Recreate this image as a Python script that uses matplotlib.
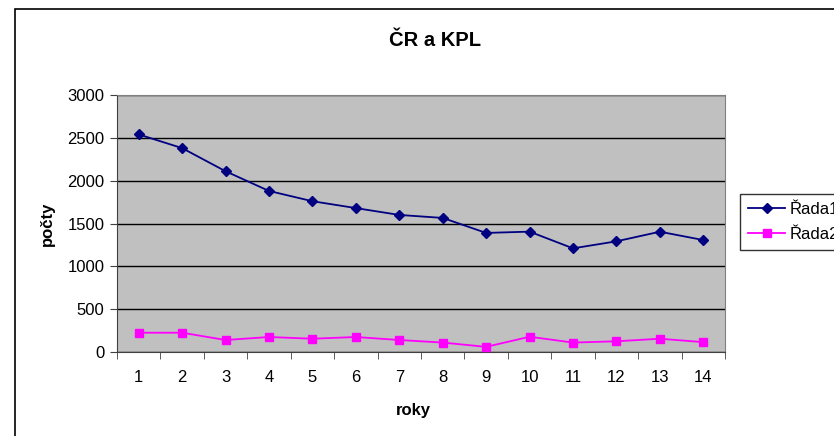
import matplotlib
matplotlib.use("Agg")
import matplotlib.pyplot as plt
from matplotlib.patches import Rectangle

plt.rcParams['font.family'] = ['Liberation Sans', 'DejaVu Sans']

years = list(range(1, 15))
rada1 = [2540, 2380, 2110, 1880, 1760, 1680, 1600, 1565, 1390, 1405, 1210, 1292, 1404, 1307]
rada2 = [225, 225, 140, 175, 155, 175, 140, 110, 60, 178, 110, 125, 155, 115]
yticks = [0, 500, 1000, 1500, 2000, 2500, 3000]

W, H = 834, 436
fig = plt.figure(figsize=(W / 100, H / 100), dpi=100)
fig.patch.set_facecolor('white')

# outer chart border
fig.patches.append(Rectangle((15 / W, 0 - 0.1), 1.2, (H - 9.5) / H + 0.1, transform=fig.transFigure,
                             fill=False, edgecolor='black', linewidth=1.2, zorder=0))

ax = fig.add_axes([117 / W, (H - 352) / H, (725 - 117) / W, (352 - 95) / H])
ax.set_facecolor('#C0C0C0')

ax.plot(years, rada1, color='#000080', marker='D', markersize=5.5, linewidth=1.3, label='Řada1', zorder=3)
ax.plot(years, rada2, color='#FF00FF', marker='s', markersize=5.5, linewidth=1.3, label='Řada2', zorder=3)

ax.set_xlim(0.5, 14.5)
ax.set_ylim(0, 3000)
ax.set_yticks(yticks)
ax.set_xticks(years)
ax.set_xticks([y + 0.5 for y in range(0, 15)], minor=True)
ax.tick_params(axis='x', which='major', length=0, pad=13, labelsize=12)
ax.tick_params(axis='x', which='minor', length=5, direction='out', color='#404040')
ax.tick_params(axis='y', length=5, direction='out', pad=4, labelsize=12, color='#404040')
ax.grid(axis='y', color='black', linewidth=1, zorder=1)
ax.set_axisbelow(True)
for s in ['top', 'right']:
    ax.spines[s].set_color('#808080')
for s in ['left', 'bottom']:
    ax.spines[s].set_color('#404040')

fig.text(435 / W, 1 - 40 / H, 'ČR a KPL', ha='center', va='center', fontsize=14.5, fontweight='bold')
fig.text(47 / W, 1 - 224 / H, 'počty', ha='center', va='center', rotation=90, fontsize=12, fontweight='bold')
fig.text(413 / W, 1 - 410 / H, 'roky', ha='center', va='center', fontsize=12, fontweight='bold')

leg = fig.legend(loc='upper left', bbox_to_anchor=(740 / W, 1 - 194 / H), frameon=True, fancybox=False,
                 edgecolor='black', fontsize=12, handlelength=2.2, handletextpad=0.25,
                 borderpad=0.5, labelspacing=0.58, borderaxespad=0)
leg.get_frame().set_linewidth(1)

fig.savefig('out.png', dpi=100)
